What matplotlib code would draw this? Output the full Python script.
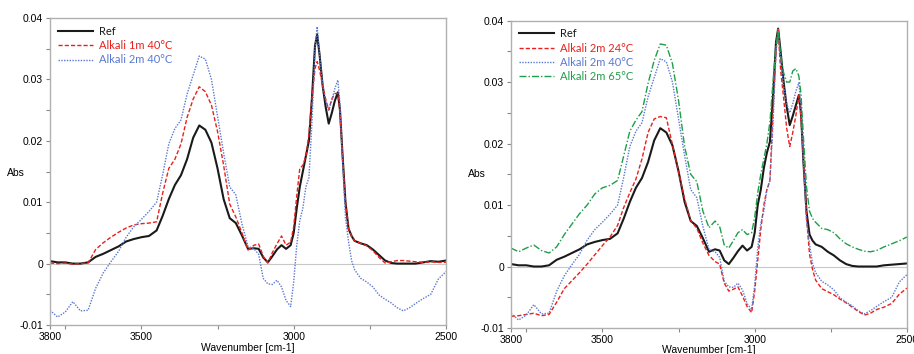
import numpy as np
import matplotlib
matplotlib.use('Agg')
import matplotlib.pyplot as plt
from matplotlib.ticker import MultipleLocator, FixedLocator, FuncFormatter

plt.rcParams['font.family'] = ['Liberation Sans', 'DejaVu Sans']

# wavenumber grid [cm-1]
wn = [3800, 3775, 3750, 3725, 3700, 3675, 3650, 3625, 3600, 3575, 3550, 3525, 3500,
      3475, 3450, 3430, 3410, 3390, 3370, 3350, 3330, 3310, 3290, 3270, 3250, 3230,
      3210, 3190, 3170, 3150, 3130, 3115, 3100, 3085, 3070, 3055, 3040, 3025, 3010,
      3000, 2990, 2980, 2970, 2960, 2950, 2940, 2930, 2923, 2915, 2905, 2895, 2885,
      2875, 2865, 2855, 2848, 2840, 2830, 2820, 2810, 2800, 2780, 2760, 2740, 2720,
      2700, 2680, 2660, 2640, 2620, 2600, 2575, 2550, 2525, 2500]

ref_left = [0.0004, 0.0002, 0.0002, 0.0000, 0.0000, 0.0002, 0.0011, 0.0016, 0.0022, 0.0028,
            0.0036, 0.0040, 0.0043, 0.0045, 0.0054, 0.0078, 0.0105, 0.0128, 0.0144, 0.0170,
            0.0205, 0.0225, 0.0218, 0.0197, 0.0155, 0.0105, 0.0074, 0.0066, 0.0046, 0.0024,
            0.0025, 0.0024, 0.0010, 0.0002, 0.0012, 0.0023, 0.0030, 0.0024, 0.0030, 0.0050,
            0.0090, 0.0125, 0.0150, 0.0175, 0.0200, 0.0270, 0.0355, 0.0373, 0.0340, 0.0290,
            0.0255, 0.0228, 0.0245, 0.0265, 0.0279, 0.0250, 0.0180, 0.0100, 0.0057, 0.0045,
            0.0037, 0.0033, 0.0030, 0.0023, 0.0014, 0.0005, 0.0001, 0.0000, 0.0000, 0.0000,
            0.0000, 0.0002, 0.0004, 0.0003, 0.0005]

ref_right = [0.0004, 0.0002, 0.0002, 0.0000, 0.0000, 0.0002, 0.0011, 0.0016, 0.0022, 0.0028,
             0.0036, 0.0040, 0.0043, 0.0045, 0.0054, 0.0078, 0.0105, 0.0128, 0.0144, 0.0170,
             0.0205, 0.0225, 0.0218, 0.0197, 0.0155, 0.0105, 0.0074, 0.0066, 0.0046, 0.0024,
             0.0028, 0.0026, 0.0010, 0.0004, 0.0014, 0.0025, 0.0034, 0.0026, 0.0032, 0.0055,
             0.0100, 0.0125, 0.0160, 0.0185, 0.0203, 0.0275, 0.0365, 0.0387, 0.0350, 0.0300,
             0.0260, 0.0230, 0.0245, 0.0262, 0.0279, 0.0250, 0.0170, 0.0090, 0.0052, 0.0042,
             0.0036, 0.0032, 0.0024, 0.0018, 0.0010, 0.0004, 0.0001, 0.0000, 0.0000, 0.0000,
             0.0000, 0.0002, 0.0003, 0.0004, 0.0005]

alk_1m_40 = [0.0001, 0.0000, 0.0001, -0.0001, 0.0000, 0.0001, 0.0023, 0.0034, 0.0043, 0.0051,
             0.0058, 0.0063, 0.0065, 0.0066, 0.0068, 0.0115, 0.0155, 0.0170, 0.0195, 0.0238,
             0.0268, 0.0288, 0.0280, 0.0258, 0.0215, 0.0160, 0.0097, 0.0076, 0.0050, 0.0022,
             0.0030, 0.0032, 0.0012, 0.0001, 0.0018, 0.0032, 0.0045, 0.0030, 0.0035, 0.0060,
             0.0110, 0.0155, 0.0160, 0.0175, 0.0210, 0.0270, 0.0318, 0.0329, 0.0315, 0.0290,
             0.0268, 0.0250, 0.0268, 0.0277, 0.0277, 0.0245, 0.0178, 0.0100, 0.0057, 0.0045,
             0.0037, 0.0033, 0.0029, 0.0021, 0.0010, 0.0001, 0.0003, 0.0005, 0.0005, 0.0004,
             0.0003, 0.0002, 0.0003, 0.0002, 0.0002]

alk_2m_40 = [-0.0076, -0.0087, -0.0079, -0.0062, -0.0077, -0.0076, -0.0040, -0.0015, 0.0003, 0.0020,
             0.0043, 0.0060, 0.0072, 0.0085, 0.0100, 0.0145, 0.0195, 0.0220, 0.0234, 0.0276,
             0.0307, 0.0338, 0.0333, 0.0300, 0.0240, 0.0180, 0.0125, 0.0112, 0.0065, 0.0028,
             0.0024, 0.0015, -0.0024, -0.0033, -0.0034, -0.0027, -0.0038, -0.0060, -0.0070, -0.0030,
             0.0030, 0.0070, 0.0090, 0.0125, 0.0140, 0.0230, 0.0350, 0.0386, 0.0340, 0.0293,
             0.0265, 0.0250, 0.0265, 0.0285, 0.0299, 0.0260, 0.0170, 0.0075, 0.0036, 0.0005,
             -0.0010, -0.0024, -0.0030, -0.0038, -0.0051, -0.0058, -0.0064, -0.0072, -0.0077, -0.0072,
             -0.0065, -0.0057, -0.0050, -0.0025, -0.0013]

alk_2m_24 = [-0.0081, -0.0080, -0.0078, -0.0076, -0.0080, -0.0078, -0.0058, -0.0036, -0.0023, -0.0010,
             0.0004, 0.0019, 0.0034, 0.0048, 0.0067, 0.0096, 0.0120, 0.0142, 0.0175, 0.0218,
             0.0240, 0.0244, 0.0242, 0.0198, 0.0154, 0.0110, 0.0075, 0.0062, 0.0038, 0.0018,
             0.0008, 0.0004, -0.0027, -0.0040, -0.0037, -0.0033, -0.0048, -0.0065, -0.0075, -0.0040,
             0.0010, 0.0060, 0.0100, 0.0125, 0.0140, 0.0250, 0.0350, 0.0385, 0.0320, 0.0274,
             0.0225, 0.0195, 0.0218, 0.0245, 0.0279, 0.0240, 0.0180, 0.0080, 0.0020, -0.0005,
             -0.0022, -0.0036, -0.0041, -0.0046, -0.0053, -0.0059, -0.0066, -0.0073, -0.0079, -0.0076,
             -0.0070, -0.0066, -0.0060, -0.0045, -0.0035]

alk_2m_65 = [0.0030, 0.0024, 0.0030, 0.0035, 0.0026, 0.0022, 0.0032, 0.0052, 0.0069, 0.0086,
             0.0100, 0.0118, 0.0128, 0.0132, 0.0140, 0.0180, 0.0220, 0.0238, 0.0252, 0.0298,
             0.0335, 0.0362, 0.0360, 0.0330, 0.0270, 0.0195, 0.0150, 0.0138, 0.0090, 0.0063,
             0.0074, 0.0065, 0.0035, 0.0030, 0.0042, 0.0055, 0.0060, 0.0052, 0.0055, 0.0080,
             0.0120, 0.0150, 0.0175, 0.0200, 0.0235, 0.0300, 0.0360, 0.0382, 0.0345, 0.0315,
             0.0300, 0.0300, 0.0318, 0.0322, 0.0310, 0.0280, 0.0210, 0.0130, 0.0090, 0.0078,
             0.0072, 0.0062, 0.0060, 0.0055, 0.0045, 0.0037, 0.0032, 0.0028, 0.0025, 0.0024,
             0.0026, 0.0032, 0.0037, 0.0042, 0.0048]

xticks = [3800, 3750, 3500, 3250, 3000, 2750, 2500]
xticklabels = ['3800', '', '3500', '', '3000', '', '2500']

c_ref = '#1a1a1a'
c_red = '#e8201c'
c_blue = '#5b78d0'
c_green = '#1f9e4a'

fig = plt.figure(figsize=(9.14, 3.54), dpi=100)
ax1 = fig.add_axes([50/914, 1 - 325/354, 396/914, 307/354])
ax2 = fig.add_axes([511/914, 1 - 328/354, 396/914, 307.4/354])


def style(ax, ylab_y, xpad):
    ax.set_xlim(3800, 2500)
    ax.set_ylim(-0.01, 0.04)
    ax.axhline(0, color='#c8c8c8', lw=0.8, zorder=0)
    ax.xaxis.set_major_locator(FixedLocator(xticks))
    ax.set_xticklabels(xticklabels)
    ax.yaxis.set_major_locator(MultipleLocator(0.01))
    ax.yaxis.set_minor_locator(MultipleLocator(0.005))
    ax.yaxis.set_major_formatter(FuncFormatter(lambda v, p: '0' if abs(v) < 1e-9 else '%g' % round(v, 3)))
    ax.tick_params(axis='both', which='both', direction='out', length=3, width=0.8,
                   color='#888888', labelsize=7.5, pad=2)
    for s in ax.spines.values():
        s.set_color('#b0b0b0')
        s.set_linewidth(1.0)
    ax.set_xlabel('Wavenumber [cm-1]', fontsize=7.5, labelpad=xpad)
    ax.set_ylabel('Abs', rotation=0, fontsize=7.5)
    ax.yaxis.set_label_coords(-0.086, ylab_y)


ax1.plot(wn, ref_left, color=c_ref, lw=1.5, label='Ref')
ax1.plot(wn, alk_1m_40, color=c_red, lw=1.0, ls=(0, (3, 1.5)), label='Alkali 1m 40°C')
ax1.plot(wn, alk_2m_40, color=c_blue, lw=1.0, ls=(0, (1, 1)), label='Alkali 2m 40°C')
style(ax1, 0.48, 1)
ax1.legend(loc='upper left', frameon=False, handlelength=3.2,
           labelspacing=0.3, borderaxespad=0.3, handletextpad=0.5,
           labelcolor=[c_ref, c_red, c_blue], prop={'family': 'Lato', 'size': 8})

ax2.plot(wn, ref_right, color=c_ref, lw=1.5, label='Ref')
ax2.plot(wn, alk_2m_24, color=c_red, lw=1.0, ls=(0, (3, 1.5)), label='Alkali 2m 24°C')
ax2.plot(wn, alk_2m_40, color=c_blue, lw=1.0, ls=(0, (1, 1)), label='Alkali 2m 40°C')
ax2.plot(wn, alk_2m_65, color=c_green, lw=1.0, ls=(0, (5, 1.5, 1, 1.5)), label='Alkali 2m 65°C')
style(ax2, 0.485, 0)
ax2.legend(loc='upper left', frameon=False, handlelength=3.2,
           labelspacing=0.3, borderaxespad=0.3, handletextpad=0.5,
           labelcolor=[c_ref, c_red, c_blue, c_green], prop={'family': 'Lato', 'size': 8})

plt.savefig('out.png', dpi=100)
